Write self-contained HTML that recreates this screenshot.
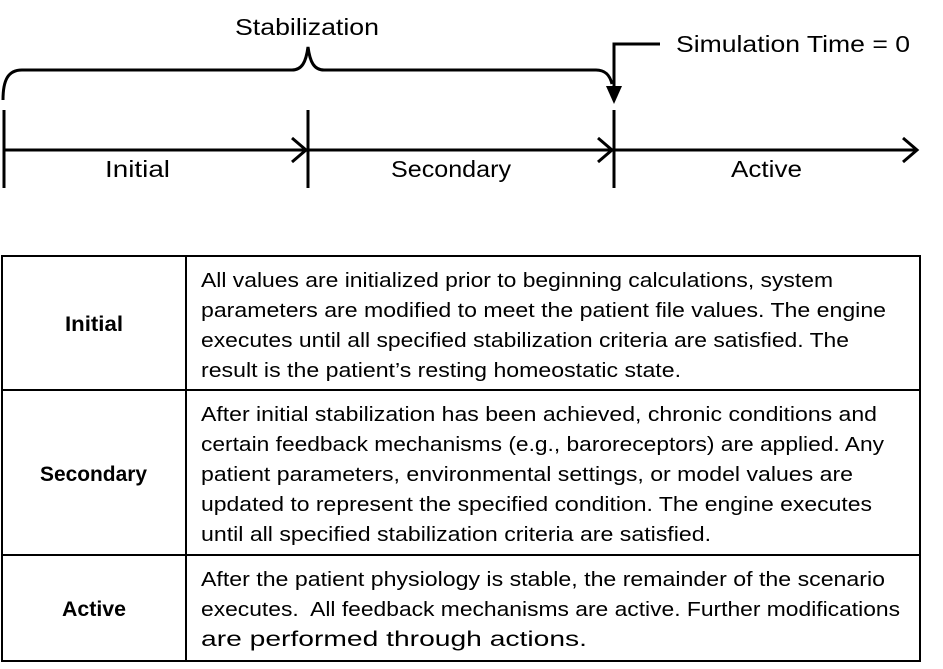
<!DOCTYPE html>
<html><head><meta charset="utf-8"><style>
html,body{margin:0;padding:0;background:#fff;}
svg{display:block;}
text{font-family:"Liberation Sans",sans-serif;fill:#000;}
</style></head><body>
<svg width="943" height="669" viewBox="0 0 943 669" xmlns="http://www.w3.org/2000/svg">
<g stroke="#000" stroke-width="3" fill="none">
<line x1="3" y1="150" x2="916" y2="150"/>
<line x1="4" y1="110" x2="4" y2="188"/>
<line x1="308" y1="110" x2="308" y2="188"/>
<line x1="614" y1="110" x2="614" y2="188"/>
<polyline points="292,138 306,150 292,162"/>
<polyline points="598,138 612,150 598,162"/>
<polyline points="903,138 917,150 903,162"/>
<path d="M3,100 C3,80 8,70 22,70 L292,70 C302,70 306,62 308,47 C310,62 314,70 324,70 L596,70 C606,70 610,76 612,84"/>
<polyline points="660,44 614,44 614,88"/>
</g>
<polygon points="606,86 622,86 614,104" fill="#000"/>
<text x="235" y="35" font-size="23" textLength="144" lengthAdjust="spacingAndGlyphs">Stabilization</text>
<text x="676" y="52" font-size="23" textLength="234" lengthAdjust="spacingAndGlyphs">Simulation Time = 0</text>
<text x="105" y="177" font-size="23" textLength="65" lengthAdjust="spacingAndGlyphs">Initial</text>
<text x="391" y="177" font-size="23" textLength="120" lengthAdjust="spacingAndGlyphs">Secondary</text>
<text x="731" y="177" font-size="23" textLength="71" lengthAdjust="spacingAndGlyphs">Active</text>

<g stroke="#000" stroke-width="2" fill="none">
<rect x="2" y="256" width="918" height="405"/>
<line x1="186" y1="256" x2="186" y2="661"/>
<line x1="2" y1="390" x2="920" y2="390"/>
<line x1="2" y1="555" x2="920" y2="555"/>
</g>
<g font-size="21" font-weight="bold">
<text x="65" y="331" textLength="58" lengthAdjust="spacingAndGlyphs">Initial</text>
<text x="40" y="481" textLength="107" lengthAdjust="spacingAndGlyphs">Secondary</text>
<text x="62" y="616" textLength="64" lengthAdjust="spacingAndGlyphs">Active</text>
</g>
<g font-size="20">
<text x="201" y="287" textLength="632" lengthAdjust="spacingAndGlyphs">All values are initialized prior to beginning calculations, system</text>
<text x="201" y="317" textLength="685" lengthAdjust="spacingAndGlyphs">parameters are modified to meet the patient file values. The engine</text>
<text x="201" y="347" textLength="648" lengthAdjust="spacingAndGlyphs">executes until all specified stabilization criteria are satisfied. The</text>
<text x="201" y="377" textLength="480" lengthAdjust="spacingAndGlyphs">result is the patient’s resting homeostatic state.</text>
<text x="201" y="421" textLength="676" lengthAdjust="spacingAndGlyphs">After initial stabilization has been achieved, chronic conditions and</text>
<text x="201" y="451" textLength="683" lengthAdjust="spacingAndGlyphs">certain feedback mechanisms (e.g., baroreceptors) are applied. Any</text>
<text x="201" y="481" textLength="652" lengthAdjust="spacingAndGlyphs">patient parameters, environmental settings, or model values are</text>
<text x="201" y="511" textLength="671" lengthAdjust="spacingAndGlyphs">updated to represent the specified condition. The engine executes</text>
<text x="201" y="541" textLength="510" lengthAdjust="spacingAndGlyphs">until all specified stabilization criteria are satisfied.</text>
<text x="201" y="586" textLength="684" lengthAdjust="spacingAndGlyphs">After the patient physiology is stable, the remainder of the scenario</text>
<text x="201" y="616" textLength="699" lengthAdjust="spacingAndGlyphs" xml:space="preserve">executes.  All feedback mechanisms are active. Further modifications</text>
</g>
<text x="201" y="646" font-size="21" textLength="386" lengthAdjust="spacingAndGlyphs">are performed through actions.</text>
</svg>
</body></html>
